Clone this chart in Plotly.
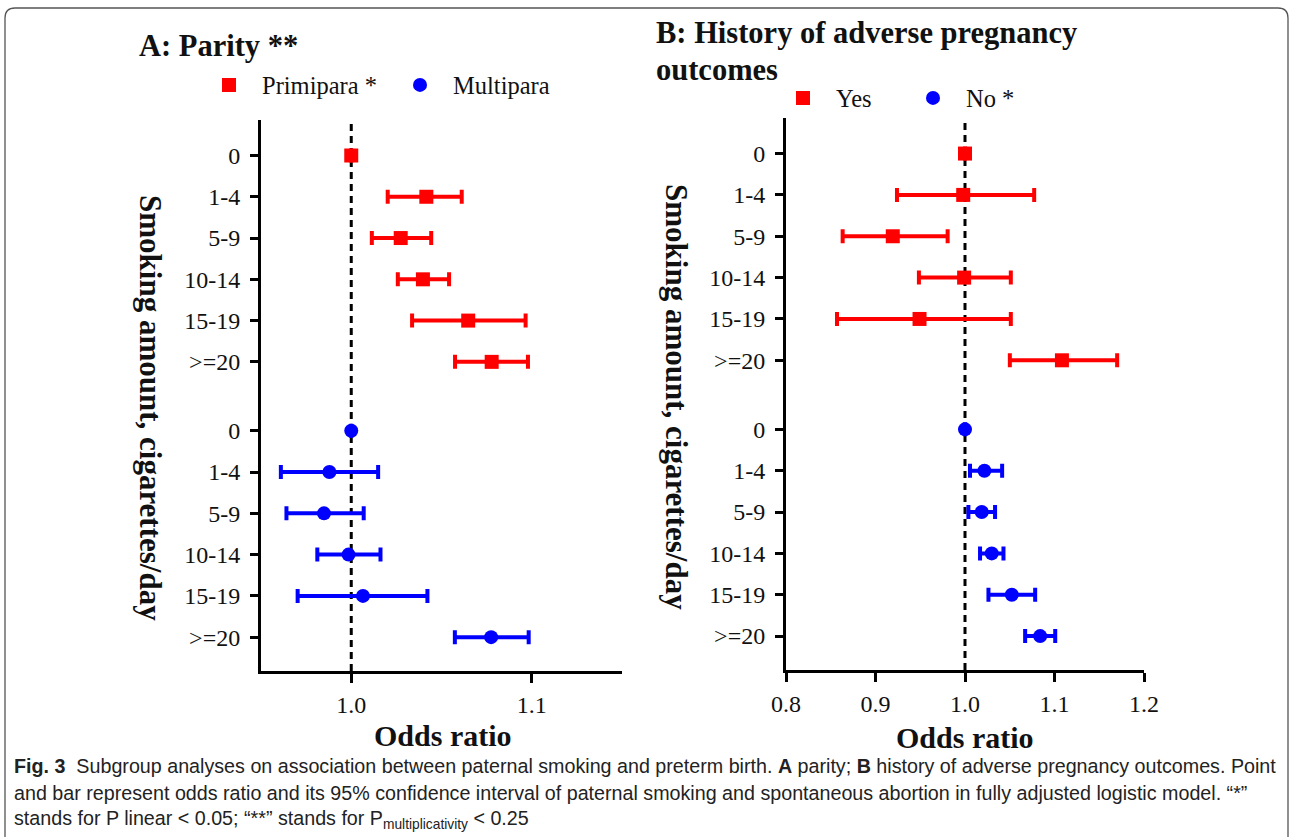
import plotly.graph_objects as go

W, H = 1290, 837
SERIF = "Liberation Serif, Times New Roman, serif"
SANS = "Liberation Sans Narrow, Arial Narrow, Liberation Sans, sans-serif"

categories = ["0", "1-4", "5-9", "10-14", "15-19", ">=20"]

# Panel A: Parity
primi_or = [1.000, 1.0416, 1.0274, 1.0397, 1.0648, 1.0778]
primi_lo = [1.000, 1.0202, 1.0114, 1.0258, 1.0337, 1.0575]
primi_hi = [1.000, 1.0612, 1.0443, 1.0542, 1.0966, 1.0979]

multi_or = [1.000, 0.9879, 0.9849, 0.9985, 1.0065, 1.0775]
multi_lo = [1.000, 0.9610, 0.9641, 0.9812, 0.9703, 1.0574]
multi_hi = [1.000, 1.0149, 1.0069, 1.0162, 1.0422, 1.0983]

# Panel B: History of adverse pregnancy outcomes
yes_or = [1.000, 0.998, 0.9193, 0.999, 0.9492, 1.1083]
yes_lo = [1.000, 0.924, 0.8633, 0.9485, 0.8570, 1.0501]
yes_hi = [1.000, 1.0773, 0.9806, 1.0512, 1.0512, 1.1700]

no_or = [1.000, 1.0217, 1.0187, 1.0299, 1.0523, 1.0840]
no_lo = [1.000, 1.0056, 1.0038, 1.0168, 1.0262, 1.0672]
no_hi = [1.000, 1.0415, 1.0336, 1.0430, 1.0784, 1.1008]

GAP = 6.67
pos_top = list(range(len(categories)))
pos_bot = [GAP + i for i in range(len(categories))]
tickvals = pos_top + pos_bot
ticktext = categories + categories

RED = "#ff0000"
BLUE = "#0000ff"


def px_x(v):
    return v / W


def px_y(v):
    return 1 - v / H


fig = go.Figure()


def add_series(xa, ya, orv, lo, hi, pos, color, symbol, name, legend):
    fig.add_trace(go.Scatter(
        x=orv, y=pos, mode="markers", name=name, legend=legend,
        xaxis=xa, yaxis=ya,
        marker=dict(symbol=symbol, size=14, color=color),
        error_x=dict(type="data", symmetric=False,
                     array=[h - o for h, o in zip(hi, orv)],
                     arrayminus=[o - l for o, l in zip(orv, lo)],
                     color=color, thickness=4, width=7),
    ))


add_series("x", "y", primi_or, primi_lo, primi_hi, pos_top, RED, "square", "Primipara *", "legend")
add_series("x", "y", multi_or, multi_lo, multi_hi, pos_bot, BLUE, "circle", "Multipara", "legend")
add_series("x2", "y2", yes_or, yes_lo, yes_hi, pos_top, RED, "square", "Yes", "legend2")
add_series("x2", "y2", no_or, no_lo, no_hi, pos_bot, BLUE, "circle", "No *", "legend2")

YRANGE = [12.49, -0.86]
axis_common = dict(showline=True, linewidth=3, linecolor="black", ticks="outside",
                   tickwidth=2.5, tickcolor="black", showgrid=False, zeroline=False,
                   tickfont=dict(family=SERIF, size=24, color="#111"), automargin=False)

fig.update_layout(
    width=W, height=H,
    margin=dict(l=0, r=0, t=0, b=0),
    paper_bgcolor="white", plot_bgcolor="white",
    showlegend=True,
    xaxis=dict(domain=[px_x(261), px_x(622)], range=[0.95, 1.15], tickvals=[1.0, 1.1],
               ticktext=["1.0", "1.1"], ticklen=9, ticklabelstandoff=1, anchor="y", **axis_common),
    yaxis=dict(domain=[px_y(671), px_y(120)], range=YRANGE, tickvals=tickvals, ticktext=ticktext,
               ticklen=8, ticklabelstandoff=5, anchor="x", **axis_common),
    xaxis2=dict(domain=[px_x(786), px_x(1144)], range=[0.8, 1.2], tickvals=[0.8, 0.9, 1.0, 1.1, 1.2],
                ticktext=["0.8", "0.9", "1.0", "1.1", "1.2"], ticklen=9, ticklabelstandoff=1,
                anchor="y2", **axis_common),
    yaxis2=dict(domain=[px_y(670), px_y(118)], range=YRANGE, tickvals=tickvals, ticktext=ticktext,
                ticklen=8, ticklabelstandoff=5, anchor="x2", **axis_common),
    legend=dict(orientation="h", x=px_x(196), y=px_y(85), xanchor="left", yanchor="middle",
                font=dict(family=SERIF, size=24.5, color="#111"), entrywidth=120, itemwidth=56,
                bgcolor="rgba(0,0,0,0)"),
    legend2=dict(orientation="h", x=px_x(770), y=px_y(98), xanchor="left", yanchor="middle",
                 font=dict(family=SERIF, size=24.5, color="#111"), entrywidth=59, itemwidth=56,
                 bgcolor="rgba(0,0,0,0)"),
)

# reference lines at OR = 1
for xr, yr in (("x", "y domain"), ("x2", "y2 domain")):
    fig.add_shape(type="line", xref=xr, yref=yr, x0=1, x1=1, y0=0, y1=1,
                  line=dict(color="black", width=3, dash="7px,5px"), layer="below")

# outer rounded frame
r_x, r_y = 10 / W, 10 / H
x0f, x1f, y0f = px_x(5), px_x(1288), px_y(8)
path = (f"M {x0f},-0.01 L {x0f},{y0f - r_y} Q {x0f},{y0f} {x0f + r_x},{y0f} "
        f"L {x1f - r_x},{y0f} Q {x1f},{y0f} {x1f},{y0f - r_y} L {x1f},-0.01")
fig.add_shape(type="path", xref="paper", yref="paper", path=path,
              line=dict(color="#555555", width=1.3))

ann = []
def text(x, y, s, size, bold=False, xanchor="left", angle=0, family=SERIF, color="#111"):
    ann.append(dict(x=px_x(x), y=px_y(y), xref="paper", yref="paper", text=(f"<b>{s}</b>" if bold else s),
                    showarrow=False, xanchor=xanchor, yanchor="middle", textangle=angle,
                    font=dict(family=family, size=size, color=color)))

text(137, 46, "A: Parity **", 30.5, bold=True)
text(654, 33, "B: History of adverse pregnancy", 30.5, bold=True)
text(654, 70, "outcomes", 30.5, bold=True)
text(150, 408, "Smoking amount, cigarettes/day", 31, bold=True, xanchor="center", angle=90)
text(677, 397, "Smoking amount, cigarettes/day", 31, bold=True, xanchor="center", angle=90)
text(443, 735, "Odds ratio", 30, bold=True, xanchor="center")
text(965, 737, "Odds ratio", 30, bold=True, xanchor="center")

cap1 = ("<b>Fig. 3</b>  Subgroup analyses on association between paternal smoking and preterm birth. "
        "<b>A</b> parity; <b>B</b> history of adverse pregnancy outcomes. Point")
cap2 = ("and bar represent odds ratio and its 95% confidence interval of paternal smoking and "
        "spontaneous abortion in fully adjusted logistic model. “*”")
cap3 = "stands for P linear < 0.05; “**” stands for P<sub>multiplicativity</sub> < 0.25"
text(12, 766, cap1, 19.7, family=SANS, color="#222")
text(12, 793, cap2, 19.7, family=SANS, color="#222")
text(12, 819, cap3, 19.7, family=SANS, color="#222")

fig.update_layout(annotations=ann)
fig.write_html("out.html", config={"displayModeBar": False},
               post_script="document.body.style.margin='0';document.body.style.overflow='hidden';")
